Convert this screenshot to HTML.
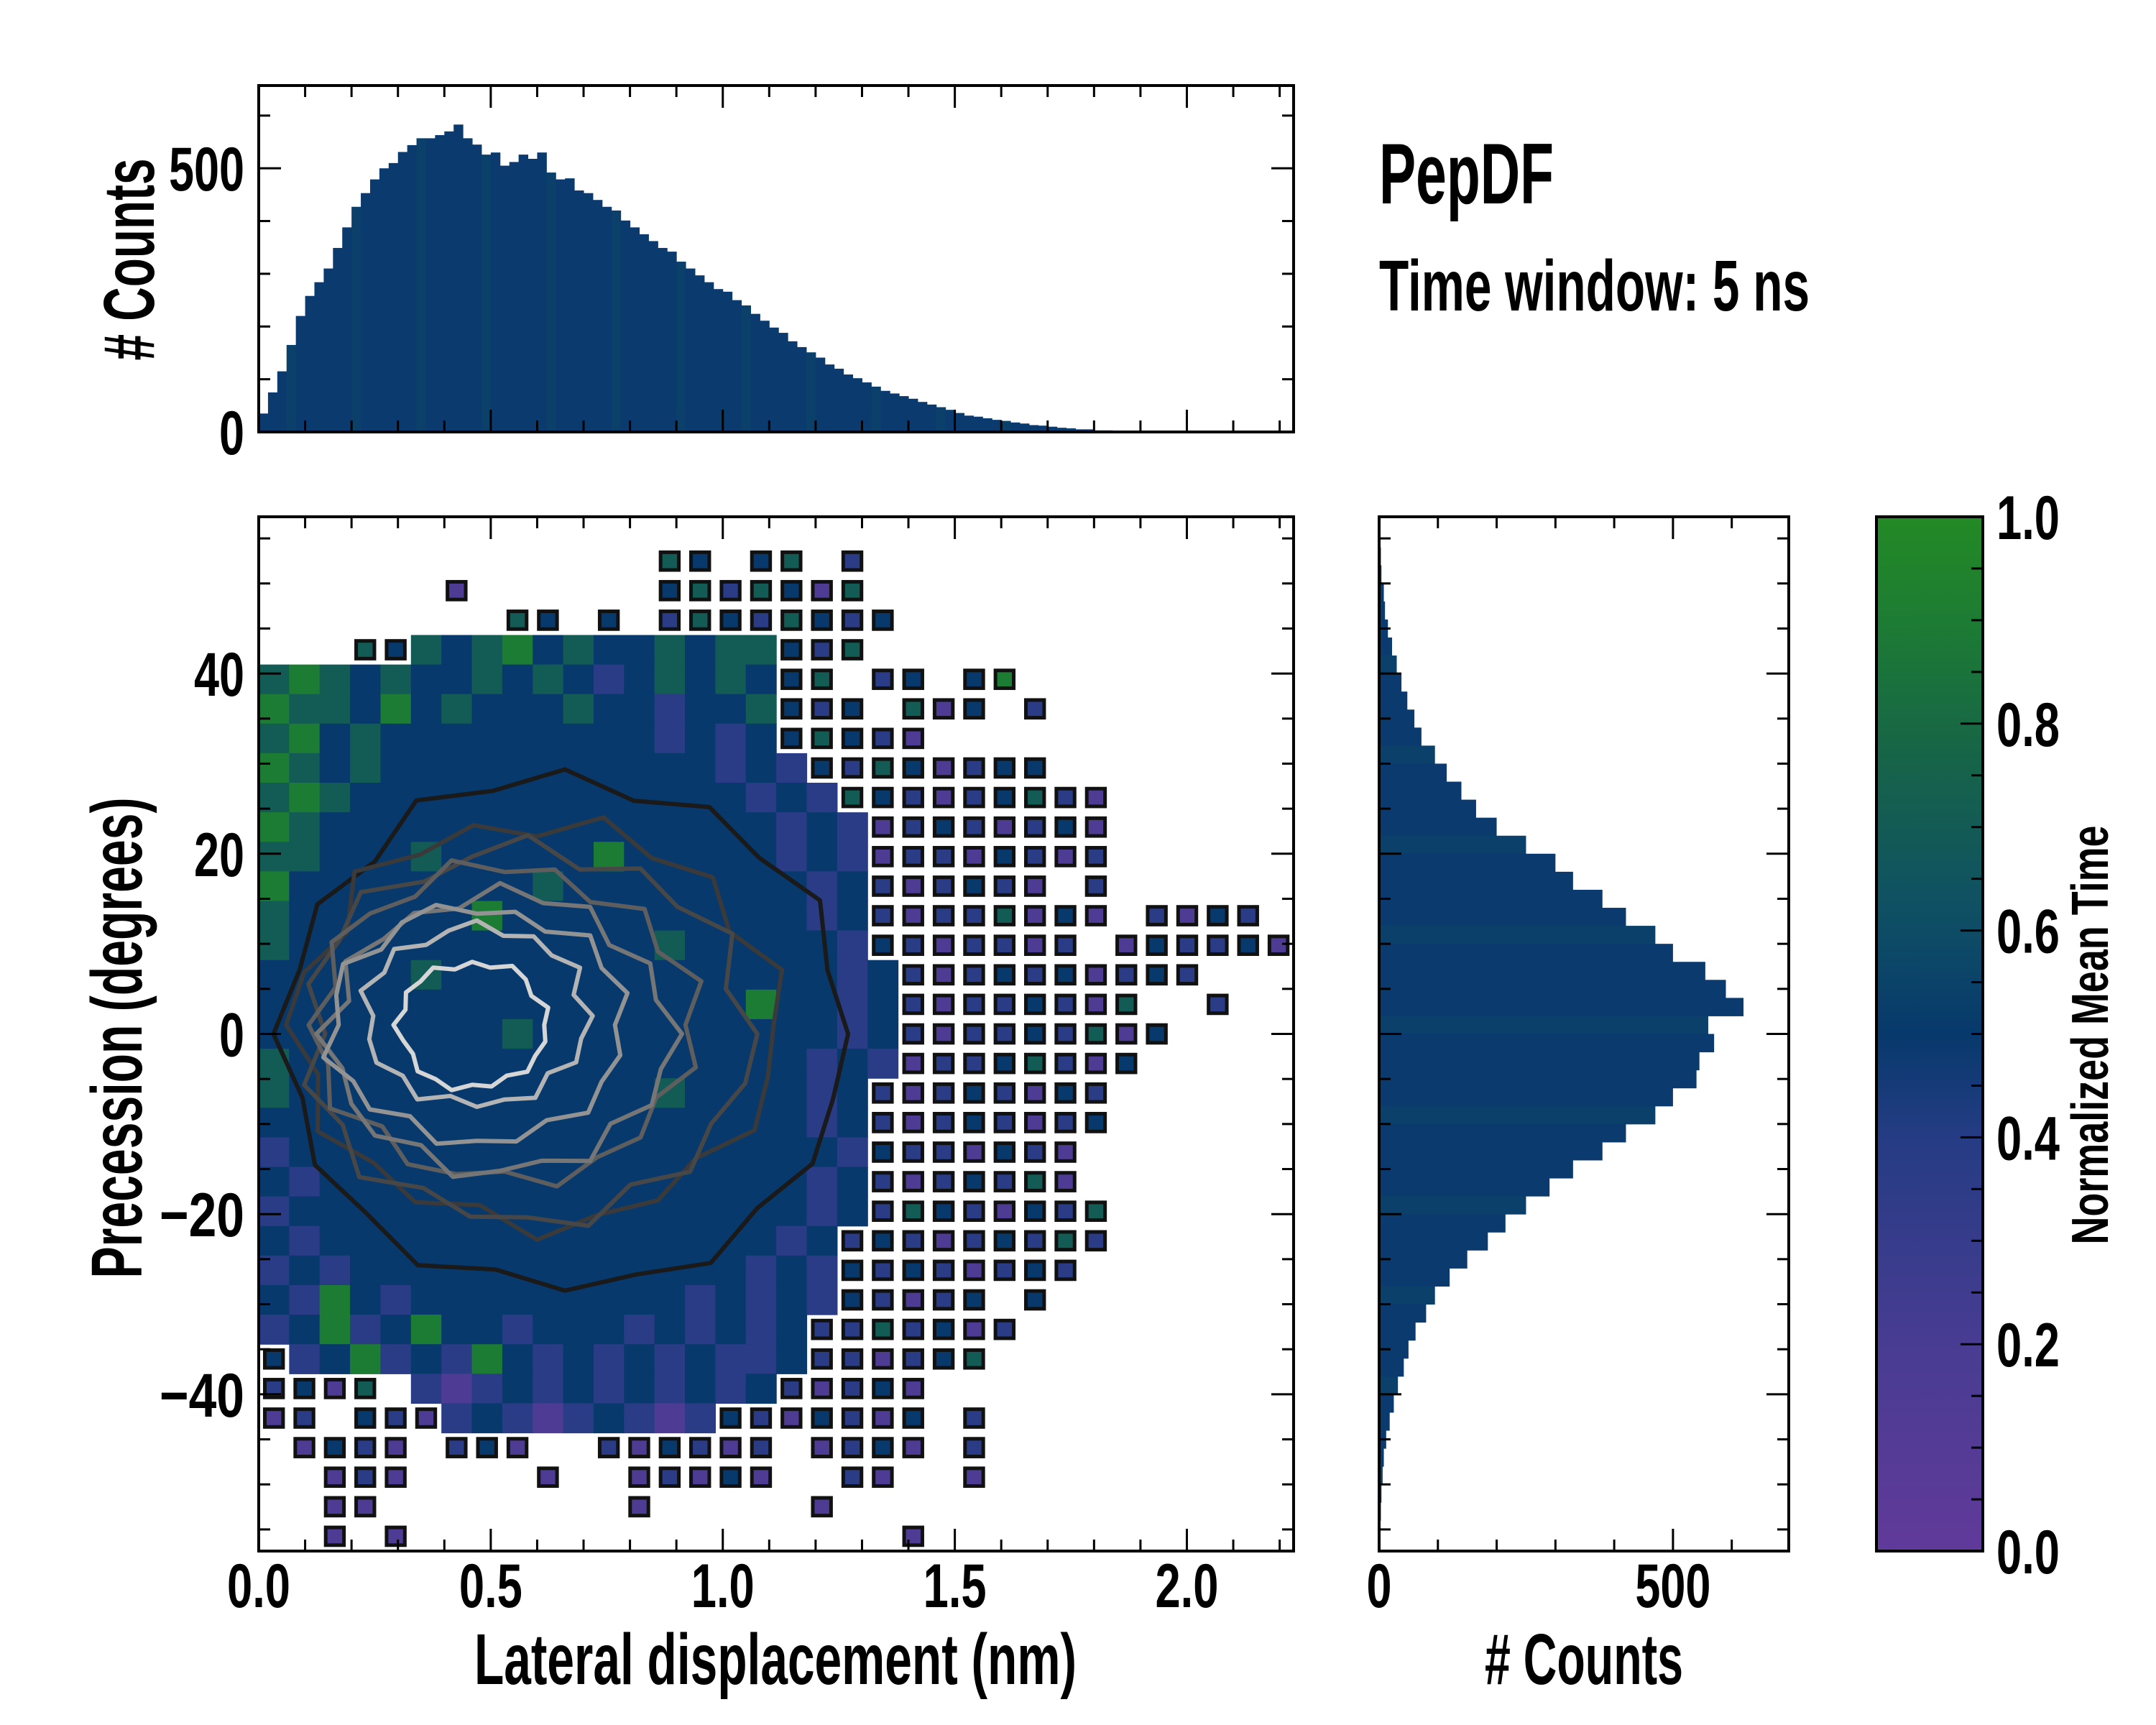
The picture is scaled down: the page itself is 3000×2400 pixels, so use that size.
<!DOCTYPE html>
<html><head><meta charset="utf-8"><style>
html,body{margin:0;padding:0;background:#fff;}
svg{display:block;}
text{font-family:"Liberation Sans Narrow","Liberation Sans",sans-serif;font-weight:bold;fill:#000;}
</style></head>
<body>
<svg id="fig" width="3000" height="2400" viewBox="0 0 3000 2400" xmlns="http://www.w3.org/2000/svg">
<defs>
<linearGradient id="cbgrad" x1="0" y1="1" x2="0" y2="0">
<stop offset="0" stop-color="#613a9a"/><stop offset="0.2" stop-color="#483c92"/><stop offset="0.4" stop-color="#253c84"/><stop offset="0.5" stop-color="#07396c"/><stop offset="0.62" stop-color="#0f5064"/><stop offset="0.78" stop-color="#176646"/><stop offset="0.9" stop-color="#1d7c33"/><stop offset="1" stop-color="#238a25"/>
</linearGradient>
<clipPath id="mainclip"><rect x="360" y="719" width="1440" height="1439"/></clipPath>
</defs>
<g id="heat" clip-path="url(#mainclip)"></g>
<g id="contours" clip-path="url(#mainclip)"></g>
<g id="tophist"></g>
<g id="righthist"></g>
<rect x="2611" y="719" width="148" height="1439" fill="url(#cbgrad)" stroke="#000" stroke-width="4"/>
<g id="axes"></g>
<g id="labels">
<text x="1079" y="2343" font-size="100" text-anchor="middle" textLength="838" lengthAdjust="spacingAndGlyphs">Lateral displacement (nm)</text>
<text x="2204" y="2343" font-size="100" text-anchor="middle" textLength="276" lengthAdjust="spacingAndGlyphs"># Counts</text>
<text transform="translate(197,1444) rotate(-90)" x="0" y="0" font-size="100" text-anchor="middle" textLength="669" lengthAdjust="spacingAndGlyphs">Precession (degrees)</text>
<text transform="translate(214,361) rotate(-90)" x="0" y="0" font-size="100" text-anchor="middle" textLength="281" lengthAdjust="spacingAndGlyphs"># Counts</text>
<text transform="translate(2933,1440) rotate(-90)" x="0" y="0" font-size="72" text-anchor="middle" textLength="583" lengthAdjust="spacingAndGlyphs">Normalized Mean Time</text>
<text x="1919" y="283" font-size="120" textLength="243" lengthAdjust="spacingAndGlyphs">PepDF</text>
<text x="1919" y="432" font-size="100" textLength="599" lengthAdjust="spacingAndGlyphs">Time window: 5 ns</text>
</g>
</svg>
<script>
// ---------- data ----------
const topHistCounts = [35,75,115,165,220,258,284,310,349,388,427,453,479,500,510,531,544,557,557,563,570,583,557,545,526,530,505,512,526,518,530,492,479,481,458,453,440,427,420,401,388,375,362,349,342,323,310,297,284,271,266,250,240,224,211,198,188,172,161,151,141,128,120,109,102,94,86,78,73,68,63,57,52,47,42,36,31,29,26,23,21,18,16,13,12,10,8,7,5,5,3,3,2,1,1,1];
const topHistBinWidth = 0.02;
const rightHistCenters = [55,53,51,49,47,45,43,41,39,37,35,33,31,29,27,25,23,21,19,17,15,13,11,9,7,5,3,1,-1,-3,-5,-7,-9,-11,-13,-15,-17,-19,-21,-23,-25,-27,-29,-31,-33,-35,-37,-39,-41,-43,-45,-47,-49,-51,-53,-55];
const rightHistCounts = [1,3,4,8,10,15,22,30,38,48,60,72,95,115,140,165,200,250,300,330,380,420,470,500,555,590,620,560,570,545,540,500,470,420,380,330,290,250,215,185,150,120,95,80,62,50,42,32,25,18,12,8,6,4,3,1];
const rightHistBinHeight = 2;
const xTickLabels = ["0.0","0.5","1.0","1.5","2.0"];
const xTickValues = [0,0.5,1.0,1.5,2.0];
const yTickValues = [40,20,0,-20,-40];
const yTickLabels = ["40","20","0","\u221220","\u221240"];
const topHistTickValues = [0,500];
const rightHistTickValues = [0,500];
const cbTickValues = [0,0.2,0.4,0.6,0.8,1.0];
const cbTickLabels = ["0.0","0.2","0.4","0.6","0.8","1.0"];
const heatCellW = 0.0656, heatCellH = 3.28, heatTop = 57.4;
const heatCodes = {G:0.9,T:0.7,N:0.5,B:0.38,P:0.15};
const heatRows = [
"",
".............tn.nt.b",
"......p......ntbtnpt",
"........tn.n.btnbtnbn",
"...tnTNTGNTNNTNTTnbt",
"TGTNTNNTNTNBNTNTNnt.bn.ng",
"GTTNGNTNNNTNNBNNTnbn.tpn.b",
"TGNTNNNNNNNNNBNBNntnbp",
"GTNTNNNNNNNNNNNBNBnbtnpbnn",
"TGTNNNNNNNNNNNNNBNBtnbpbntbp",
"GTNNNNNNNNNNNNNNNBNBpbnbpbnp",
"TTNNNTNNNNNGNNNNNBNBpbbpnbpb",
"GNNNNNNNNTNNNNNNNNBNbpbnbp.b",
"TNNNNNNGNNNNNNNNNNBNbpbbtpnp.bpnb",
"TNNNNNNNNNNNNTNNNNNBnbpbbpb.pnbbnp",
"NNNNNTNNNNNNNNNNNNNBNbpbnbnpbnb",
"NNNNNNNNNNNNNNNNGNNBNbpbbnbpt..b",
"NNNNNNNNTNNNNNNNNNNBNbpbbnbtpn",
"TNNNNNNNNNNNNNNNNNBNBpbbntbpn",
"TNNNNNNNNNNNNTNNNNBNbpbnbpnb",
"NNNNNNNNNNNNNNNNNNBNbpbnbpbn",
"BNNNNNNNNNNNNNNNNNNBnbbpnbp",
"NBNNNNNNNNNNNNNNNNBNbpbnbtp",
"BNNNNNNNNNNNNNNNNNBNbtnbpnbt",
"NBNNNNNNNNNNNNNNNBNbnbpbnbtb",
"BNBNNNNNNNNNNNNNBNBnbnbpbnb",
"NBGNBNNNNNNNNNBNBNBnbpbn.n",
"BNGBNGNNBNNNBNBNBNbbtbnpb",
"nBNGBNBGNBNBNBNBBNbbpbnt",
"bnpt.BPBNBNBNBNBNbpbnp",
"pb.nbpBNBPBNBPBnbpnbpn.b",
".pnbp.bnp..bpnbpb.pbnp.b",
"..pbp....p..pbpnp..bp..p",
"..pp........p.....p",
"..p.p................p"
];
const contourCentersX = [0.66,0.60,0.58,0.53,0.52,0.47,0.47,0.46];
const contourCentersY = [0,1,0,1,0,1,2,1];
const contourRx = [0.61,0.52,0.48,0.41,0.37,0.32,0.24,0.16];
const contourRy = [28.5,22.5,21,17.5,15.5,13,10,7];
const contourColors = ["#1a1a1a","#3a3a3a","#474747","#5e5e5e","#767676","#939393","#b4b4b4","#d6d6d6"];
const contourJags = [
[1.00,0.96,1.04,0.97,1.02,0.94,1.03,0.98,1.05,0.95,1.01,0.97,1.03,0.96,1.02,0.99,1.04,0.95,1.00,0.97,1.03,0.96,1.01,0.98],
[0.98,1.05,0.92,1.03,0.95,1.06,0.93,1.02,0.97,1.07,0.91,1.00,1.04,0.94,1.05,0.96,1.01,0.92,1.06,0.97,1.00,0.93,1.04,0.99],
[1.03,0.92,1.06,0.95,1.01,0.90,1.05,0.97,0.93,1.06,0.98,1.02,0.91,1.04,0.96,1.07,0.94,1.00,0.97,1.05,0.92,1.03,0.95,1.01],
[0.95,1.07,0.93,1.04,0.90,1.02,0.97,1.08,0.94,1.00,1.05,0.92,1.03,0.96,1.06,0.91,1.02,0.98,0.93,1.06,0.97,1.01,0.92,1.04],
[1.06,0.94,1.01,0.90,1.05,0.97,1.08,0.93,1.00,0.96,1.04,0.91,1.07,0.95,1.00,1.03,0.92,1.06,0.98,0.94,1.05,0.91,1.02,0.97],
[0.93,1.05,0.97,1.08,0.92,1.00,0.95,1.06,1.01,0.91,1.04,0.98,0.93,1.07,0.96,1.02,0.90,1.05,0.99,1.03,0.94,1.06,0.97,1.00],
[1.04,0.90,1.07,0.95,1.02,0.92,1.06,0.98,0.91,1.05,0.96,1.08,0.93,1.00,1.04,0.94,1.07,0.92,1.01,0.96,1.05,0.90,1.03,0.97],
[0.97,1.06,0.92,1.02,1.08,0.94,1.00,0.91,1.05,0.98,1.03,0.93,1.06,0.96,0.92,1.04,0.99,1.07,0.95,1.01,0.93,1.05,0.98,1.02]
];

// ---------- scales ----------
const X0=360,X1=1800,XMAX=2.23;
const Y0=719,Y1=2158,YHALF=57.4;
const sx = v => X0 + v/XMAX*(X1-X0);
const sy = d => (Y0+Y1)/2 - d*((Y1-Y0)/2/YHALF);
const TY0=119,TY1=601,TMAX=657;
const ty = c => TY1 - c/TMAX*(TY1-TY0);
const RX0=1919,RX1=2489,RMAX=697;
const rx = c => RX0 + c/RMAX*(RX1-RX0);
const CY0=719,CY1=2158;
const cy = v => CY1 - v*(CY1-CY0);

const NS="http://www.w3.org/2000/svg";
function mk(tag, attrs, parent){
  const e=document.createElementNS(NS,tag);
  for(const k in attrs) e.setAttribute(k,attrs[k]);
  parent.appendChild(e); return e;
}
const stops=[[0,[97,58,154]],[0.2,[72,60,146]],[0.4,[37,60,132]],[0.5,[7,57,108]],[0.62,[15,80,100]],[0.78,[23,102,70]],[0.9,[29,124,51]],[1,[35,138,37]]];
function cmap(v){
  for(let i=1;i<stops.length;i++){
    if(v<=stops[i][0]){
      const a=stops[i-1],b=stops[i],t=(v-a[0])/(b[0]-a[0]);
      const c=a[1].map((q,j)=>Math.round(q+(b[1][j]-q)*t));
      return `rgb(${c[0]},${c[1]},${c[2]})`;
    }
  }
  return "rgb(35,138,37)";
}

const heat=document.getElementById('heat');
heatRows.forEach((row,j)=>{
  for(let i=0;i<row.length;i++){
    const ch=row[i]; if(ch==='.') continue;
    const up=ch.toUpperCase(); const v=heatCodes[up]; if(v===undefined) continue;
    const xa=sx(i*heatCellW), xb=sx((i+1)*heatCellW);
    const ya=sy(heatTop-j*heatCellH), yb=sy(heatTop-(j+1)*heatCellH);
    if(ch===up){
      const r=mk('rect',{x:xa,y:ya,width:xb-xa+0.6,height:yb-ya+0.6,fill:cmap(v)},heat);
      
      
    } else {
      const w=xb-xa,h=yb-ya;
      const r=mk('rect',{x:xa+w*0.2,y:ya+h*0.2,width:w*0.6,height:h*0.6,fill:cmap(v),stroke:'#111','stroke-width':5},heat);
      
      
    }
  }
});

const cg=document.getElementById('contours');
contourCentersX.forEach((cx0,k)=>{
  const jag=contourJags[k]; const n=jag.length; let d='';
  for(let i=0;i<n;i++){
    const th=2*Math.PI*i/n;
    const px=sx(cx0+contourRx[k]*jag[i]*Math.cos(th));
    const py=sy(contourCentersY[k]+contourRy[k]*jag[i]*Math.sin(th));
    d+=(i?'L':'M')+px.toFixed(1)+' '+py.toFixed(1);
  }
  const p=mk('path',{d:d+'Z',fill:'none',stroke:contourColors[k],'stroke-width':6,'stroke-linejoin':'round'},cg);
  
  
});

const th=document.getElementById('tophist');
topHistCounts.forEach((c,i)=>{
  const xa=sx(i*topHistBinWidth), xb=sx((i+1)*topHistBinWidth);
  const r=mk('rect',{x:xa,y:ty(c),width:xb-xa+0.5,height:TY1-ty(c),fill:(i%7===3?'#0a4069':'#0b3a6e')},th);
  
  
});

const rh=document.getElementById('righthist');
rightHistCenters.forEach((c,i)=>{
  const ya=sy(c+rightHistBinHeight/2), yb=sy(c-rightHistBinHeight/2);
  const v=rightHistCounts[i];
  const r=mk('rect',{x:RX0,y:ya,width:rx(v)-RX0,height:yb-ya+0.5,fill:(i%5===2?'#0a4069':'#0b3a6e')},rh);
  
  
});

const ax=document.getElementById('axes');
function line(x1,y1,x2,y2,w){ const l=mk('line',{x1,y1,x2,y2,stroke:'#000','stroke-width':w||3},ax);   return l;}
function frame(x,y,w,h,name){ const r=mk('rect',{x,y,width:w,height:h,fill:'none',stroke:'#000','stroke-width':4},ax);  }
function labelWidth(s){ let w=0; for(const ch of s){ w += (ch==='.')?18:(ch==='\u2212')?48:35; } return w; }
function label(x,y,s,anchor,name){
  const t=mk('text',{x,y,'font-size':86,'text-anchor':anchor,textLength:labelWidth(s),lengthAdjust:'spacingAndGlyphs'},ax);
  t.textContent=s;   return t;}
const MAJ=31,MIN=16;
frame(X0,TY0,X1-X0,TY1-TY0,'top-hist-frame');
frame(X0,Y0,X1-X0,Y1-Y0,'main-frame');
frame(RX0,Y0,RX1-RX0,Y1-Y0,'right-hist-frame');
for(let k=0;k<=22;k++){
  const v=k*0.1, x=sx(v), L=(k%5===0)?MAJ:MIN;
  line(x,Y1,x,Y1-L); line(x,Y0,x,Y0+L);
  line(x,TY1,x,TY1-L); line(x,TY0,x,TY0+L);
}
xTickValues.forEach((v,i)=>label(sx(v),2236,xTickLabels[i],'middle','x-tick-label'));
for(let d=-55;d<=55;d+=5){
  const y=sy(d), L=(d%20===0)?MAJ:MIN;
  line(X0,y,X0+L,y); line(X1,y,X1-L,y);
  line(RX0,y,RX0+L,y); line(RX1,y,RX1-L,y);
}
yTickValues.forEach((v,i)=>label(340,sy(v)+31,yTickLabels[i],'end','y-tick-label'));
for(let c=0;c<=600;c+=100){
  const y=ty(c), L=(c%500===0)?MAJ:MIN;
  line(X0,y,X0+L,y); line(X1,y,X1-L,y);
}
topHistTickValues.forEach(v=>label(340,ty(v)+31,String(v),'end','top-hist-tick-label'));
for(let c=0;c<=600;c+=100){
  const x=rx(c), L=(c%500===0)?MAJ:MIN;
  line(x,Y1,x,Y1-L); line(x,Y0,x,Y0+L);
}
rightHistTickValues.forEach(v=>label(rx(v),2236,String(v),'middle','right-hist-tick-label'));
for(let k=0;k<=20;k++){
  const v=k*0.05, y=cy(v), L=(k%4===0)?MAJ:MIN;
  line(2759,y,2759-L,y);
}
cbTickValues.forEach((v,i)=>label(2778,cy(v)+31,cbTickLabels[i],'start','colorbar-tick-label'));
</script>
</body></html>
